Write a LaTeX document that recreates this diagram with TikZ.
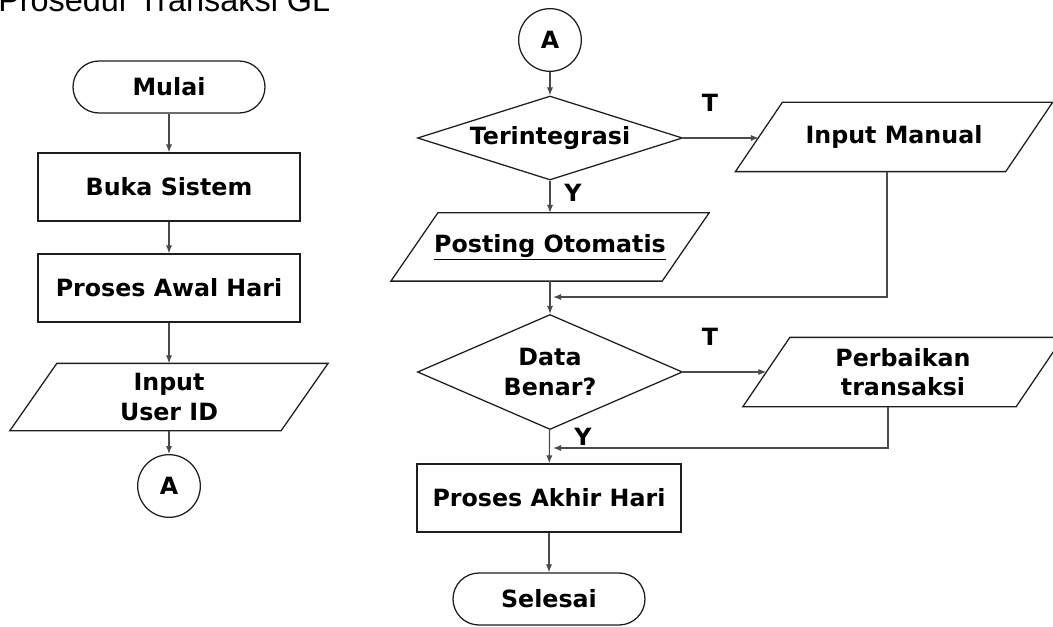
\documentclass[tikz,border=0pt]{standalone}
\usepackage{fontspec}
\setmainfont{DejaVu Sans}
\newfontfamily\titlefont{Liberation Sans}
\usetikzlibrary{shapes.geometric,arrows.meta,calc}

\definecolor{edge}{HTML}{1E1E1E}
\definecolor{wire}{HTML}{4A4A4A}

\tikzset{
  box/.style={draw=edge, line width=0.95pt, inner sep=0pt, align=center,
              font=\fontsize{17.8pt}{22pt}\selectfont\bfseries, fill=white},
  terminal/.style={box, rounded corners=19.5pt, minimum width=144pt, minimum height=39pt},
  procbox/.style={box, minimum width=196.5pt, minimum height=51pt},
  iobox/.style={box, draw=none, fill=none},
  joinc/.style={box, circle, minimum size=47pt},
  decision/.style={box, diamond, minimum width=198.75pt},
  conn/.style={draw=wire, line width=0.9pt, -{Latex[length=6pt,width=4.6pt]}},
  lbl/.style={font=\fontsize{17.8pt}{22pt}\selectfont\bfseries, inner sep=0pt},
}
% outline of a data (input/output) parallelogram around a named node
\newcommand{\ioshape}[1]{%
  \draw[draw=edge, line width=0.95pt]
    ($(#1.south west)+(-17.6pt,0)$) -- ($(#1.north west)+(17.6pt,0)$) --
    ($(#1.north east)+(17.6pt,0)$) -- ($(#1.south east)+(-17.6pt,0)$) -- cycle;}

\begin{document}
\begin{tikzpicture}[x=0.75pt, y=-0.75pt]
  \fill[white] (0,0) rectangle (1053,627);
  \useasboundingbox (0,0) rectangle (1053,627);
  \clip (0,0) rectangle (1053,627);

  \node[anchor=base west, inner sep=0pt, font=\titlefont\fontsize{24.3pt}{28pt}\selectfont]
    (title) at (-2,12) {Prosedur Transaksi GL};

  % left column
  \node[terminal] (mulai) at (169,87) {Mulai};
  \node[procbox] (buka) at (169,187) {Buka Sistem};
  \node[procbox] (awal) at (169,288) {Proses Awal Hari};
  \node[iobox, minimum width=202.5pt, minimum height=49.5pt] (userid) at (169,397) {Input\\User ID};
  \ioshape{userid}
  \node[joinc] (a1) at (169,486) {A};

  \draw[conn] (mulai) -- (buka);
  \draw[conn] (buka) -- (awal);
  \draw[conn] (awal) -- (userid);
  \draw[conn] (userid) -- (a1);

  % right column
  \node[joinc] (a2) at (550,40) {A};
  \node[decision, aspect=3, minimum height=63pt] (integ) at (550,138) {Terintegrasi};
  \node[iobox, minimum width=201.75pt, minimum height=51pt] (manual) at (894,137) {Input Manual};
  \ioshape{manual}
  \node[iobox, minimum width=202.5pt, minimum height=50.25pt] (posting) at (550,247) {\underline{Posting Otomatis}};
  \ioshape{posting}
  \node[decision, aspect=2.3, minimum height=86.25pt] (benar) at (550,372) {Data\\Benar?};
  \node[iobox, minimum width=204pt, minimum height=51pt] (perbaikan) at (903,372) {Perbaikan\\transaksi};
  \ioshape{perbaikan}
  \node[procbox, minimum width=198pt] (akhir) at (549,498) {Proses Akhir Hari};
  \node[terminal] (selesai) at (549,599) {Selesai};

  \coordinate (m1) at (887,297);
  \coordinate (m2) at (553,297);
  \coordinate (p1) at (888,448);
  \coordinate (p2) at (553,448);

  \draw[conn] (a2) -- (integ);
  \draw[conn] (integ.east) -- (integ.east -| manual.west);
  \draw[conn] (integ) -- (posting);
  \draw[conn] (posting) -- (benar);
  \draw[conn] (manual.south -| m1) |- (m2);
  \draw[conn] (benar.east) -- (benar.east -| perbaikan.west);
  \draw[conn] (perbaikan.south -| p1) |- (p2);
  \draw[conn] (benar) -- (akhir);
  \draw[conn] (akhir) -- (selesai);

  \node[lbl] (t1) at (710,103) {T};
  \node[lbl] (y1) at (573,193) {Y};
  \node[lbl] (t2) at (710,337) {T};
  \node[lbl] (y2) at (583,437) {Y};
\end{tikzpicture}
\end{document}
